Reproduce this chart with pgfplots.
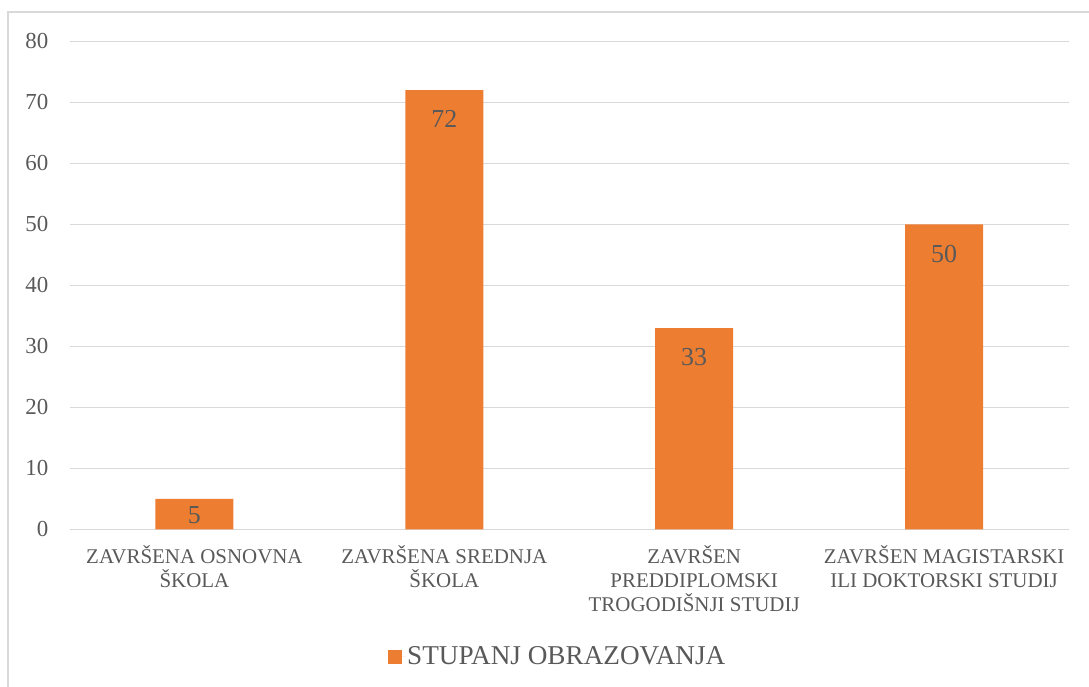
\documentclass[border=0pt]{standalone}
\usepackage{pgfplots}
\pgfplotsset{compat=1.18}
\usepackage{fontspec}
\setmainfont{Liberation Serif}
\definecolor{barorange}{HTML}{ED7D31}
\definecolor{gridgray}{HTML}{D9D9D9}
\definecolor{txtgray}{HTML}{595959}
\begin{document}
\begin{tikzpicture}[x=1bp,y=1bp]
\useasboundingbox (0,0) rectangle (1089,-687);
\draw[gridgray, line width=1.2bp] (8,-687) -- (8,-12) -- (1089,-12);
\begin{axis}[
  at={(69.5bp,-529.3bp)}, anchor=south west,
  scale only axis, width=999.5bp, height=488bp,
  xmin=-0.5, xmax=3.5, ymin=0, ymax=80,
  ytick={0,10,...,80},
  xtick={0,1,2,3},
  xticklabels={{ZAVRŠENA OSNOVNA\\ŠKOLA},{ZAVRŠENA SREDNJA\\ŠKOLA},{ZAVRŠEN\\PREDDIPLOMSKI\\TROGODIŠNJI STUDIJ},{ZAVRŠEN MAGISTARSKI\\ILI DOKTORSKI STUDIJ}},
  axis line style={draw=none},
  major tick length=0pt,
  ymajorgrids,
  major grid style={draw=gridgray, line width=1.2bp},
  /pgf/number format/assume math mode=true,
  yticklabel style={font=\fontsize{23}{27}\selectfont, text=txtgray, anchor=east, inner sep=0pt, xshift=-21bp},
  xticklabel style={font=\fontsize{21}{24}\selectfont, text=txtgray, align=center, anchor=north, inner sep=0pt, yshift=-16bp},
  legend style={at={(0.4885,-0.261)}, anchor=center, draw=none, fill=none, font=\fontsize{27.3}{30}\selectfont, text=txtgray},
  legend cell align=left,
]
\addplot[ybar, bar width=78bp, fill=barorange, draw=none, bar shift=0pt,
  area legend,
  legend image code/.code={\fill[barorange] (0bp,-7bp) rectangle (14bp,7bp); \path (0bp,0bp) -- (17bp,0bp);}]
  coordinates {(0,5) (1,72) (2,33) (3,50)};
\addlegendentry{STUPANJ OBRAZOVANJA}
\addplot[draw=none, mark=none, forget plot,
  nodes near coords, point meta=explicit symbolic,
  nodes near coords style={anchor=center, font=\fontsize{26}{30}\selectfont, text=txtgray, inner sep=0pt}]
  coordinates {(0,2.26)[5] (1,67.2)[72] (2,28.2)[33] (3,45.2)[50]};
\end{axis}
\end{tikzpicture}
\end{document}
